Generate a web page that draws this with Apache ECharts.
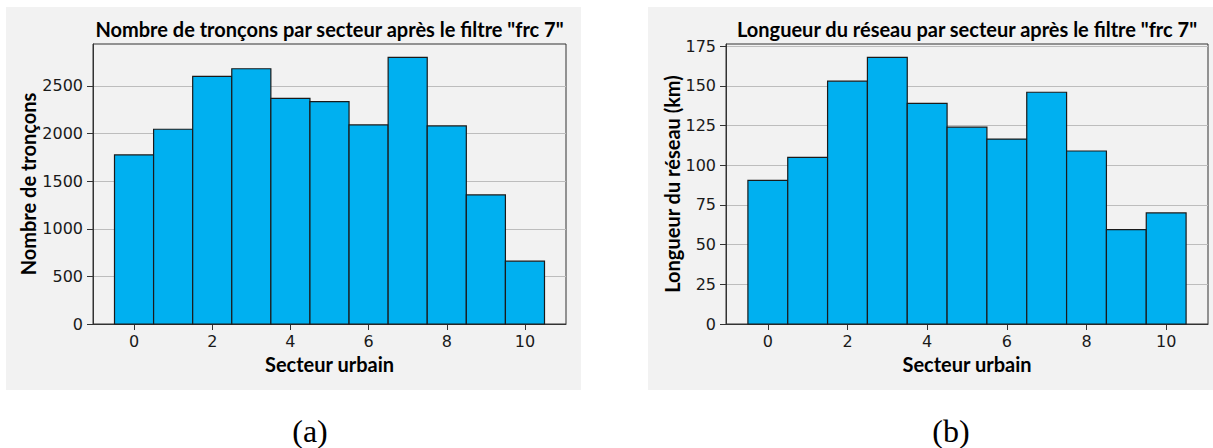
<!DOCTYPE html>
<html><head><meta charset="utf-8">
<script src="https://cdn.jsdelivr.net/npm/echarts@6/dist/echarts.min.js"></script>
<style>html,body{margin:0;padding:0;background:#fff}#c{width:1213px;height:448px}</style>
</head><body><div id="c"></div>
<script>
// ---- data ----
const sectors = [0, 1, 2, 3, 4, 5, 6, 7, 8, 9, 10];
const troncons = [1775, 2045, 2600, 2680, 2370, 2335, 2090, 2800, 2080, 1355, 660];
const longueur = [90.5, 105, 153, 168, 139, 124, 116.5, 146, 109, 59.5, 70];
const xTicks = [0, 2, 4, 6, 8, 10];
const yTicksA = [0, 500, 1000, 1500, 2000, 2500];
const yTicksB = [0, 25, 50, 75, 100, 125, 150, 175];
const titles = ['Nombre de tronçons par secteur après le filtre "frc 7"', 'Longueur du réseau par secteur après le filtre "frc 7"'];
const yNames = ['Nombre de tronçons', 'Longueur du réseau (km)'];
const xName = 'Secteur urbain';
const captions = ['(a)', '(b)'];

// ---- style ----
const BAR = '#00B0F0', EDGE = '#1a1a1a', AX = '#333', TXT = '#1a1a1a';
const LBL = 'Lato';
const TICK = 'DejaVu Sans';
const tickFont = {fontFamily: TICK, fontSize: 16, color: TXT};

const chart = echarts.init(document.getElementById('c'), null, {renderer: 'svg'});

function renderBar(params, api) {
  const x = api.value(0), v = api.value(1);
  const p0 = api.coord([x - 0.5, v]);
  const p1 = api.coord([x + 0.5, 0]);
  return {
    type: 'rect',
    shape: {x: p0[0], y: p0[1], width: p1[0] - p0[0], height: p1[1] - p0[1]},
    style: {fill: BAR, stroke: EDGE, lineWidth: 1.2}
  };
}

const grids = [
  {left: 93, top: 44, width: 473, height: 280},
  {left: 726, top: 44, width: 482, height: 280}
].map(g => Object.assign(g, {show: true, backgroundColor: '#F2F2F2', borderColor: AX, borderWidth: 1, containLabel: false}));

function xAxis(i) {
  return {
    type: 'value', gridIndex: i, min: -1.05, max: 11.05,
    axisLine: {show: true, onZero: false, lineStyle: {color: AX, width: 1}},
    axisTick: {show: true, customValues: xTicks, length: 6, lineStyle: {color: AX}},
    axisLabel: Object.assign({customValues: xTicks, margin: 9, formatter: v => String(v),
      textStyle: Object.assign({}, tickFont)}, tickFont),
    splitLine: {show: false},
    name: xName, nameLocation: 'middle', nameGap: 29,
    nameTextStyle: {fontFamily: LBL, fontWeight: 'bold', fontSize: 20, color: '#000'}
  };
}
function yAxis(i, max, interval, ticks, gap, fs) {
  return {
    type: 'value', gridIndex: i, min: 0, max: max, interval: interval,
    axisLine: {show: true, onZero: false, lineStyle: {color: AX, width: 1}},
    axisTick: {show: true, customValues: ticks, length: 6, lineStyle: {color: AX}},
    axisLabel: Object.assign({margin: 10, showMaxLabel: false, formatter: v => String(v),
      textStyle: Object.assign({}, tickFont)}, tickFont),
    splitLine: {show: true, lineStyle: {color: '#BDBDBD', width: 1}},
    name: yNames[i], nameLocation: 'middle', nameGap: gap, nameRotate: 90,
    nameTextStyle: {fontFamily: LBL, fontWeight: 'bold', fontSize: fs, color: '#000'}
  };
}

const option = {
  animation: false,
  backgroundColor: '#fff',
  grid: grids,
  xAxis: [xAxis(0), xAxis(1)],
  yAxis: [yAxis(0, 2940, 500, yTicksA, 55, 20), yAxis(1, 176.4, 25, yTicksB, 44, 20)],
  series: [
    {type: 'custom', xAxisIndex: 0, yAxisIndex: 0, renderItem: renderBar, encode: {x: 0, y: 1},
     data: sectors.map((s, k) => [s, troncons[k]]), z: 3},
    {type: 'custom', xAxisIndex: 1, yAxisIndex: 1, renderItem: renderBar, encode: {x: 0, y: 1},
     data: sectors.map((s, k) => [s, longueur[k]]), z: 3}
  ],
  graphic: [
    {type: 'rect', z: -100, shape: {x: 6, y: 7, width: 575, height: 383}, style: {fill: '#F2F2F2'}},
    {type: 'rect', z: -100, shape: {x: 648, y: 7, width: 565, height: 383}, style: {fill: '#F2F2F2'}},
    {type: 'text', x: 329.5, y: 29, style: {text: titles[0], textAlign: 'center', textVerticalAlign: 'middle',
      font: 'bold 20px Lato', fill: '#000'}},
    {type: 'text', x: 967, y: 29, style: {text: titles[1], textAlign: 'center', textVerticalAlign: 'middle',
      font: 'bold 20px Lato', fill: '#000'}},
    {type: 'text', x: 310, y: 431, style: {text: captions[0], textAlign: 'center', textVerticalAlign: 'middle',
      font: '32px "Liberation Serif"', fill: '#000'}},
    {type: 'text', x: 951, y: 431, style: {text: captions[1], textAlign: 'center', textVerticalAlign: 'middle',
      font: '32px "Liberation Serif"', fill: '#000'}}
  ]
};
chart.setOption(option);
</script>
</body></html>
